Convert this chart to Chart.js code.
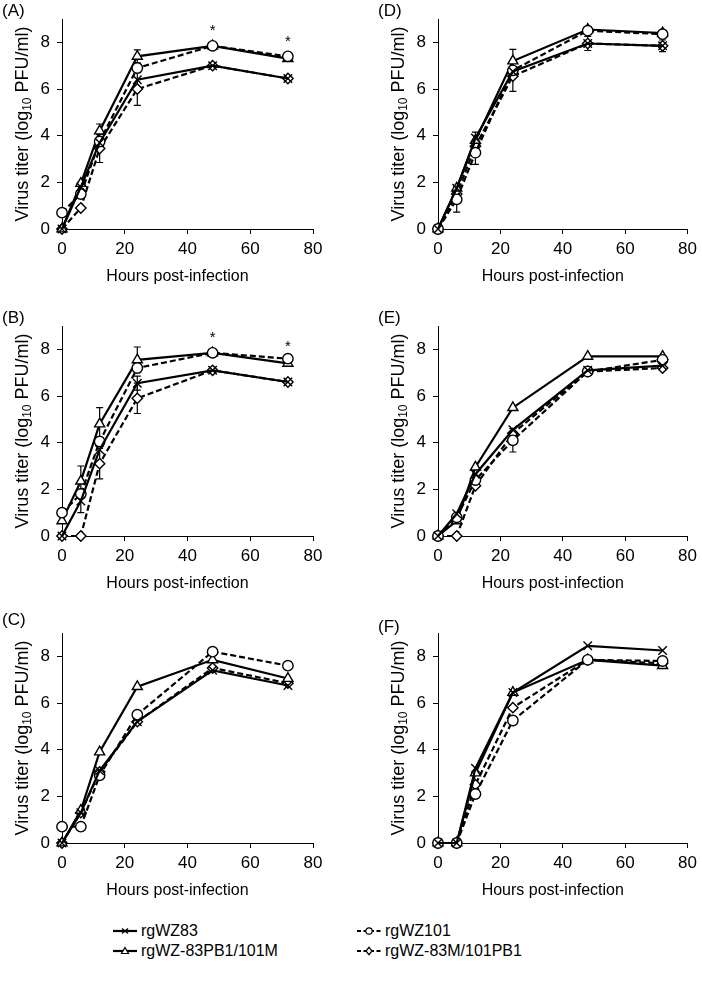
<!DOCTYPE html>
<html><head><meta charset="utf-8">
<script src="https://cdn.jsdelivr.net/npm/chart.js@4.4.1/dist/chart.umd.min.js"></script>
<style>
html,body{margin:0;padding:0;background:#fff;}
body{width:702px;height:983px;position:relative;overflow:hidden;font-family:"Liberation Sans",Arial,sans-serif;color:#000;}
canvas.p{position:absolute;}
.lbl{position:absolute;font-size:17px;line-height:16px;}
.leg{position:absolute;font-size:16px;line-height:20px;height:20px;display:flex;align-items:center;}
.leg svg{margin-right:4px;}
</style></head><body>
<canvas class="p" id="cA" width="351" height="307" style="left:0;top:0"></canvas>
<canvas class="p" id="cD" width="351" height="307" style="left:351px;top:0"></canvas>
<canvas class="p" id="cB" width="351" height="307" style="left:0;top:307px"></canvas>
<canvas class="p" id="cE" width="351" height="307" style="left:351px;top:307px"></canvas>
<canvas class="p" id="cC" width="351" height="307" style="left:0;top:614px"></canvas>
<canvas class="p" id="cF" width="351" height="307" style="left:351px;top:614px"></canvas>
<div class="lbl" style="left:2px;top:3px">(A)</div>
<div class="lbl" style="left:378px;top:3px">(D)</div>
<div class="lbl" style="left:2px;top:310px">(B)</div>
<div class="lbl" style="left:378px;top:310px">(E)</div>
<div class="lbl" style="left:2px;top:612px">(C)</div>
<div class="lbl" style="left:378px;top:619px">(F)</div>

<div class="leg" style="left:113px;top:921px">
<svg width="24" height="12"><line x1="0" y1="6" x2="24" y2="6" stroke="#000" stroke-width="2.2"/><path d="M9 3.5L15 8.5M15 3.5L9 8.5" stroke="#000" stroke-width="1.3"/></svg>rgWZ83</div>
<div class="leg" style="left:113px;top:941px">
<svg width="24" height="12"><line x1="0" y1="6" x2="24" y2="6" stroke="#000" stroke-width="2.2"/><polygon points="12,2.5 15.5,8.5 8.5,8.5" fill="#fff" stroke="#000" stroke-width="1.2"/></svg>rgWZ-83PB1/101M</div>
<div class="leg" style="left:357px;top:921px">
<svg width="24" height="12"><line x1="0" y1="6" x2="24" y2="6" stroke="#000" stroke-width="2.2" stroke-dasharray="4,2.5"/><circle cx="12" cy="6" r="3.2" fill="#fff" stroke="#000" stroke-width="1.2"/></svg>rgWZ101</div>
<div class="leg" style="left:357px;top:941px">
<svg width="24" height="12"><line x1="0" y1="6" x2="24" y2="6" stroke="#000" stroke-width="2.2" stroke-dasharray="4,2.5"/><polygon points="12,2.3 15,6 12,9.7 9,6" fill="#fff" stroke="#000" stroke-width="1.2"/></svg>rgWZ-83M/101PB1</div>

<script>
// ---- data ----
const hours = [0, 6, 12, 24, 48, 72];
const seriesNames = ["rgWZ83", "rgWZ101", "rgWZ-83PB1/101M", "rgWZ-83M/101PB1"];
const xTicks = [0, 20, 40, 60, 80];
const yTicks = [0, 2, 4, 6, 8];

// Panel A
const A_WZ83  = [0, 1.8, 3.7, 6.4, 7.0, 6.45];
const A_WZ101 = [0.7, 1.5, 3.75, 6.9, 7.85, 7.4];
const A_PB1M  = [0, 1.95, 4.2, 7.4, 7.85, 7.3];
const A_MPB1  = [0, 0.9, 3.45, 6.0, 7.0, 6.45];
const A_err   = [[2,2,0.3],[3,2,0.6],[2,3,0.28],[3,3,0.7],[0,1,0.2]];
const A_stars = [[48, 8.7],[72, 8.22]];

// Panel B
const B_WZ83  = [0, 1.5, 3.7, 6.55, 7.1, 6.6];
const B_WZ101 = [1.0, 1.8, 4.05, 7.2, 7.85, 7.6];
const B_PB1M  = [0.65, 2.35, 4.8, 7.55, 7.85, 7.4];
const B_MPB1  = [0, 0, 3.1, 5.9, 7.1, 6.6];
const B_err   = [[2,1,0.65],[0,1,0.5],[2,2,0.7],[3,2,0.65],[2,3,0.55],[3,3,0.65],[0,3,0.3]];
const B_stars = [[48, 8.68],[72, 8.3]];

// Panel C
const C_WZ83  = [0, 1.3, 3.1, 5.2, 7.4, 6.75];
const C_WZ101 = [0.7, 0.7, 2.9, 5.5, 8.2, 7.6];
const C_PB1M  = [0, 1.4, 3.9, 6.7, 7.85, 7.05];
const C_MPB1  = [0, 1.3, 3.05, 5.2, 7.5, 6.85];
const C_err   = [];
const C_stars = [];

// Panel D
const D_WZ83  = [0, 1.75, 3.9, 6.75, 7.95, 7.85];
const D_WZ101 = [0, 1.27, 3.27, 6.8, 8.5, 8.35];
const D_PB1M  = [0, 1.75, 3.8, 7.2, 8.55, 8.4];
const D_MPB1  = [0, 1.5, 3.55, 6.55, 7.95, 7.85];
const D_err   = [[1,1,0.55],[1,2,0.5],[2,2,0.35],[2,3,0.5],[3,3,0.65],[0,4,0.3],[0,5,0.25]];
const D_stars = [];

// Panel E
const E_WZ83  = [0, 0.95, 2.65, 4.55, 7.1, 7.3];
const E_WZ101 = [0, 0.8, 2.4, 4.1, 7.05, 7.55];
const E_PB1M  = [0, 0.65, 2.95, 5.5, 7.7, 7.7];
const E_MPB1  = [0, 0, 2.15, 4.4, 7.05, 7.2];
const E_err   = [[1,3,0.5]];
const E_stars = [];

// Panel F
const F_WZ83  = [0, 0, 3.2, 6.45, 8.45, 8.25];
const F_WZ101 = [0, 0, 2.1, 5.25, 7.85, 7.8];
const F_PB1M  = [0, 0, 3.0, 6.45, 7.85, 7.6];
const F_MPB1  = [0, 0, 2.5, 5.8, 7.85, 7.7];
const F_err   = [];
const F_stars = [];

// ---- styling ----
const FONT = '"Liberation Sans", Arial, sans-serif';
const STY = [
  {dash: [], style: 'crossRot', r: 6},
  {dash: [6, 3], style: 'circle', r: 5.2},
  {dash: [], style: 'triangle', r: 5.8},
  {dash: [6, 3], style: 'rectRot', r: 5.2}
];

const errPlugin = {
  id: 'errbars',
  beforeDatasetsDraw(chart, args, opts) {
    const {ctx} = chart; const xs = chart.scales.x, ys = chart.scales.y;
    ctx.save(); ctx.strokeStyle = '#000'; ctx.lineWidth = 1.2; ctx.setLineDash([]);
    (opts.errs || []).forEach(([si, hi, sd]) => {
      const v = chart.data.datasets[si].data[hi].y;
      const x = xs.getPixelForValue(hours[hi]);
      const y1 = ys.getPixelForValue(v - sd), y2 = ys.getPixelForValue(v + sd);
      ctx.beginPath();
      ctx.moveTo(x, y1); ctx.lineTo(x, y2);
      ctx.moveTo(x - 3.5, y1); ctx.lineTo(x + 3.5, y1);
      ctx.moveTo(x - 3.5, y2); ctx.lineTo(x + 3.5, y2);
      ctx.stroke();
    });
    ctx.restore();
  }
};

const textPlugin = {
  id: 'texts',
  afterDraw(chart, args, opts) {
    const {ctx, chartArea: ca} = chart; const xs = chart.scales.x, ys = chart.scales.y;
    ctx.save(); ctx.fillStyle = '#000';
    // stars
    ctx.font = '15px ' + FONT; ctx.textAlign = 'center'; ctx.textBaseline = 'alphabetic';
    (opts.stars || []).forEach(([h, v]) => {
      ctx.fillText('*', xs.getPixelForValue(h), ys.getPixelForValue(v) + 8.5);
    });
    // x title
    ctx.font = '16px ' + FONT; ctx.textBaseline = 'middle';
    ctx.fillText('Hours post-infection', (ca.left + ca.right) / 2 - 10, ca.bottom + 48);
    // y title with subscript
    const big = '18px ' + FONT, small = '12px ' + FONT;
    const p1 = 'Virus titer (log', p2 = '10', p3 = ' PFU/ml)';
    ctx.font = big; const w1 = ctx.measureText(p1).width, w3 = ctx.measureText(p3).width;
    ctx.font = small; const w2 = ctx.measureText(p2).width;
    const tot = w1 + w2 + w3;
    ctx.translate(ca.left - 39, (ca.top + ca.bottom) / 2);
    ctx.rotate(-Math.PI / 2);
    ctx.textAlign = 'left';
    let x0 = -tot / 2;
    ctx.font = big; ctx.fillText(p1, x0, 0);
    ctx.font = small; ctx.fillText(p2, x0 + w1, 5);
    ctx.font = big; ctx.fillText(p3, x0 + w1 + w2, 0);
    ctx.restore();
  }
};

function makeChart(id, vals, errs, stars, padL, padR) {
  const datasets = vals.map((arr, i) => ({
    label: seriesNames[i],
    data: hours.map((h, j) => ({x: h, y: arr[j]})),
    borderColor: '#000', borderWidth: 2.2, borderDash: STY[i].dash,
    pointStyle: STY[i].style, pointRadius: STY[i].r,
    pointBackgroundColor: '#fff', pointBorderColor: '#000', pointBorderWidth: 1.4,
    tension: 0, fill: false, clip: false
  }));
  return new Chart(document.getElementById(id), {
    type: 'line',
    data: {datasets},
    options: {
      responsive: false, animation: false, devicePixelRatio: 1,
      layout: {padding: {left: padL, right: padR, top: 19, bottom: 18}},
      plugins: {legend: {display: false}, tooltip: {enabled: false},
        errbars: {errs}, texts: {stars}},
      scales: {
        x: {
          type: 'linear', min: 0, max: 80,
          afterBuildTicks(s) { s.ticks = xTicks.map(v => ({value: v})); },
          ticks: {color: '#000', font: {size: 17, family: FONT}, padding: 5, maxRotation: 0, autoSkip: false},
          grid: {display: true, drawOnChartArea: false, drawTicks: true, tickLength: 5, color: '#000', lineWidth: 1},
          border: {display: true, color: '#000', width: 1},
          afterFit(s) { s.height = 60; }
        },
        y: {
          type: 'linear', min: 0, max: 9,
          afterBuildTicks(s) { s.ticks = yTicks.map(v => ({value: v})); },
          ticks: {color: '#000', font: {size: 17, family: FONT}, padding: 7, autoSkip: false},
          grid: {display: true, drawOnChartArea: false, drawTicks: true, tickLength: 5, color: '#000', lineWidth: 1},
          border: {display: true, color: '#000', width: 1},
          afterFit(s) { s.width = 62; }
        }
      }
    },
    plugins: [errPlugin, textPlugin]
  });
}

makeChart('cA', [A_WZ83, A_WZ101, A_PB1M, A_MPB1], A_err, A_stars, 0, 38);
makeChart('cB', [B_WZ83, B_WZ101, B_PB1M, B_MPB1], B_err, B_stars, 0, 38);
makeChart('cC', [C_WZ83, C_WZ101, C_PB1M, C_MPB1], C_err, C_stars, 0, 38);
makeChart('cD', [D_WZ83, D_WZ101, D_PB1M, D_MPB1], D_err, D_stars, 25, 11);
makeChart('cE', [E_WZ83, E_WZ101, E_PB1M, E_MPB1], E_err, E_stars, 25, 11);
makeChart('cF', [F_WZ83, F_WZ101, F_PB1M, F_MPB1], F_err, F_stars, 25, 11);
</script>
</body></html>
